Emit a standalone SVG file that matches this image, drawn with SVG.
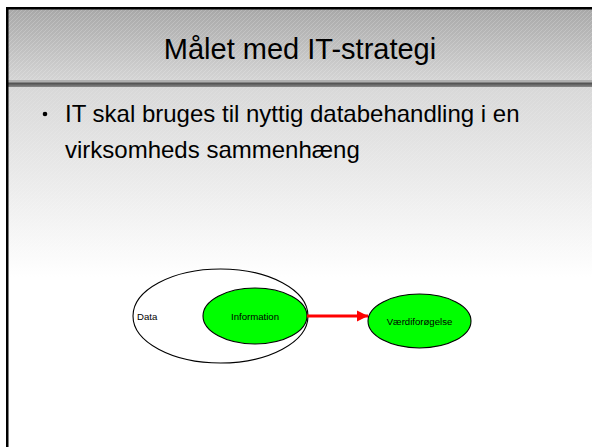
<svg xmlns="http://www.w3.org/2000/svg" width="592" height="447" viewBox="0 0 592 447">
<defs>
<linearGradient id="hdr" x1="0" y1="0" x2="0" y2="1">
<stop offset="0" stop-color="#a8a8a8"/>
<stop offset="1" stop-color="#d4d4d4"/>
</linearGradient>
<linearGradient id="body" x1="0" y1="0" x2="0" y2="1">
<stop offset="0" stop-color="#d8d8d8"/>
<stop offset="0.55" stop-color="#ededed"/>
<stop offset="1" stop-color="#ffffff"/>
</linearGradient>
<linearGradient id="sep" x1="0" y1="0" x2="0" y2="1">
<stop offset="0" stop-color="#9a9a9a"/>
<stop offset="0.3" stop-color="#555555"/>
<stop offset="1" stop-color="#8a8a8a"/>
</linearGradient>
<pattern id="hatch" width="4" height="4" patternUnits="userSpaceOnUse">
<path d="M-1,1 L1,-1 M0,4 L4,0 M3,5 L5,3" stroke="#ffffff" stroke-opacity="0.18" stroke-width="1"/>
</pattern>
<marker id="arr" viewBox="0 0 10 10" refX="10" refY="5" markerWidth="3.8" markerHeight="4" orient="auto" markerUnits="strokeWidth">
<path d="M0,0 L10,5 L0,10 z" fill="#ff0000"/>
</marker>
<style>
text{font-family:"Liberation Sans",Arial,Helvetica,sans-serif;fill:#000}
.title{font-size:29px;text-anchor:middle}
.body{font-size:24px}
.lbl{font-size:9.6px}
.node{stroke:#000;stroke-width:1.1}
.green{fill:#00ff00}
</style>
</defs>
<rect x="0" y="0" width="592" height="447" fill="#ffffff"/>
<g id="background">
<rect x="8" y="9" width="584" height="71" fill="url(#hdr)"/>
<rect x="8" y="9" width="584" height="71" fill="url(#hatch)"/>
<rect x="8" y="80" width="584" height="2" fill="#b0b0b0"/>
<rect x="8" y="82" width="584" height="5" fill="url(#sep)"/>
<rect x="8" y="87" width="584" height="190" fill="url(#body)"/>
<rect x="8" y="87" width="584" height="190" fill="url(#hatch)" opacity="0.6"/>
<rect x="6" y="7" width="586" height="2.5" fill="#000"/>
<rect x="6" y="7" width="2.5" height="440" fill="#000"/>
</g>
<g id="title">
<text class="title" x="300" y="59">Målet med IT-strategi</text>
</g>
<g id="bullet">
<circle cx="45" cy="114" r="2.3" fill="#000"/>
<text class="body" x="65" y="122">IT skal bruges til nyttig databehandling i en</text>
<text class="body" x="65" y="158">virksomheds sammenhæng</text>
</g>
<g id="data">
<ellipse class="node" cx="220.5" cy="316" rx="87.5" ry="47" fill="#ffffff"/>
<text class="lbl" x="137" y="320">Data</text>
</g>
<g id="information">
<ellipse class="node green" cx="255" cy="316" rx="52" ry="28"/>
<text class="lbl" x="255" y="320" text-anchor="middle">Information</text>
</g>
<g id="vaerdiforoegelse">
<ellipse class="node green" cx="419.5" cy="321" rx="51.5" ry="27"/>
<text class="lbl" x="419.5" y="325" text-anchor="middle">Værdiforøgelse</text>
</g>
<g id="connectors">
<line x1="307" y1="316" x2="368" y2="316" stroke="#ff0000" stroke-width="3" marker-end="url(#arr)"/>
</g>
</svg>
